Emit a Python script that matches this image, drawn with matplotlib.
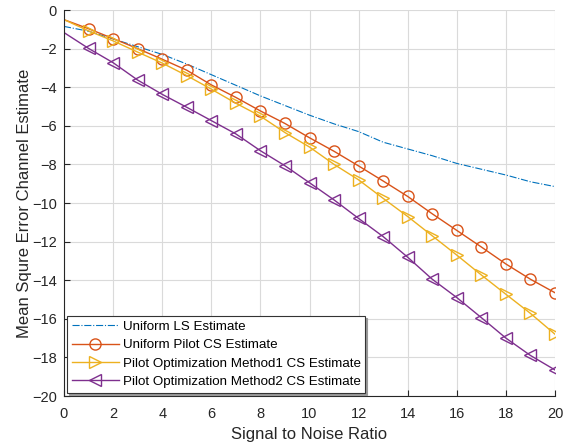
import matplotlib
matplotlib.use("Agg")
import matplotlib.pyplot as plt
import numpy as np

plt.rcParams['font.family'] = ['Liberation Sans', 'DejaVu Sans']

snr = list(range(0, 21))
ls_est = [-0.85, -1.1, -1.5, -1.9, -2.3, -2.8, -3.35, -3.9, -4.45, -4.95, -5.45,
          -5.9, -6.3, -6.85, -7.2, -7.55, -7.95, -8.25, -8.55, -8.9, -9.15]
uni_cs = [-0.5, -0.97, -1.48, -2.0, -2.55, -3.12, -3.88, -4.53, -5.23, -5.88, -6.62,
          -7.32, -8.08, -8.86, -9.66, -10.56, -11.42, -12.28, -13.16, -13.95, -14.65]
m1_cs = [-0.5, -1.08, -1.6, -2.18, -2.75, -3.4, -4.1, -4.83, -5.5, -6.35, -7.1,
         -8.0, -8.8, -9.76, -10.7, -11.7, -12.7, -13.73, -14.73, -15.72, -16.8]
m2_cs = [-1.17, -1.99, -2.73, -3.63, -4.37, -5.04, -5.73, -6.42, -7.29, -8.07, -8.95,
         -9.84, -10.8, -11.74, -12.81, -13.95, -14.9, -15.94, -17.0, -17.9, -18.65]
xticks = list(range(0, 21, 2))
yticks = list(range(-20, 1, 2))
labels = ['Uniform LS Estimate', 'Uniform Pilot CS Estimate',
          'Pilot Optimization Method1 CS Estimate', 'Pilot Optimization Method2 CS Estimate']

fig = plt.figure(figsize=(5.69, 4.46), dpi=100)
ax = fig.add_axes([64/569, 50/446, (555-64)/569, (396-10)/446])

ms = 8
ax.plot(snr, ls_est, color='#0072BD', linestyle='-.', linewidth=0.8, label=labels[0])
ax.plot(snr, uni_cs, color='#D95319', linewidth=1.0, marker='o', markersize=ms,
        markerfacecolor='none', markevery=list(range(1, 21)), label=labels[1])
ax.plot(snr, m1_cs, color='#EDB120', linewidth=1.0, marker='>', markersize=ms,
        markerfacecolor='none', markevery=list(range(1, 21)), label=labels[2])
ax.plot(snr, m2_cs, color='#7E2F8E', linewidth=1.0, marker='<', markersize=ms,
        markerfacecolor='none', markevery=list(range(1, 21)), label=labels[3])

ax.set_xlim(0, 20)
ax.set_ylim(-20, 0)
ax.set_xticks(xticks)
ax.set_yticks(yticks)
ax.grid(True, color='#DADADA', linewidth=0.8)
ax.set_axisbelow(True)
for s in ['top', 'right']:
    ax.spines[s].set_visible(False)
for s in ['left', 'bottom']:
    ax.spines[s].set_color('#262626')
    ax.spines[s].set_linewidth(0.8)
ax.tick_params(direction='in', length=4, width=0.8, colors='#262626', labelsize=10.5,
               top=False, right=False)
ax.tick_params(axis='x', pad=8)
ax.tick_params(axis='y', pad=5)
ax.set_xlabel('Signal to Noise Ratio', fontsize=12, color='#262626', labelpad=4)
ax.set_ylabel('Mean Squre Error Channel Estimate', fontsize=12, color='#262626', labelpad=0)

leg = ax.legend(loc='lower left', fontsize=9.6, handlelength=3.5, fancybox=False,
                shadow={'color': '#999999', 'alpha': 1.0, 'ox': 1.5, 'oy': -1.5},
                framealpha=1, edgecolor='#333333', borderaxespad=0.25,
                labelspacing=0.45, borderpad=0.35, handletextpad=0.3)
leg.get_frame().set_linewidth(0.8)

fig.savefig('out.png', dpi=100)
